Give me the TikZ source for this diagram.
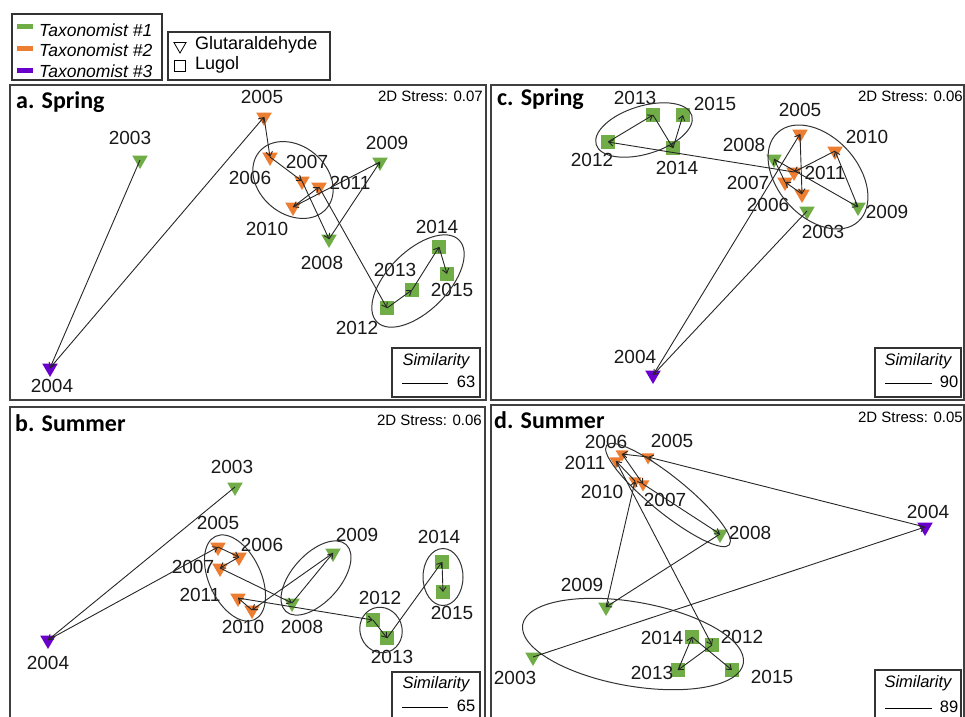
\documentclass[tikz,border=0pt]{standalone}
\usepackage{fontspec}
\setmainfont{Liberation Sans}
\newfontfamily\ttlfont{Carlito}
\usetikzlibrary{shapes.geometric,arrows.meta}
\definecolor{tgreen}{HTML}{70AD47}
\definecolor{torange}{HTML}{ED7D31}
\definecolor{tpurple}{HTML}{6A00CC}
\tikzset{
  tri/.style={regular polygon, regular polygon sides=3, shape border rotate=180, inner sep=0pt, minimum size=18pt},
  smtri/.style={tri, minimum size=15pt},
  sq/.style={rectangle, inner sep=0pt, minimum size=13.5pt},
  g/.style={fill=tgreen}, o/.style={fill=torange}, p/.style={fill=tpurple},
  yr/.style={font=\fontsize{19}{20}\selectfont, inner sep=0pt, text=black!90},
  traj/.style={draw=black!85, line width=0.9pt, -{Straight Barb[length=4.5pt,width=6.5pt]}},
  grp/.style={draw=black!80, line width=1pt},
  frame/.style={draw=black!75, line width=1.4pt},
  ttl/.style={font=\ttlfont\bfseries\fontsize{24}{26}\selectfont, inner sep=0pt, anchor=west},
  stress/.style={font=\fontsize{15}{16}\selectfont, inner sep=0pt, anchor=east},
  simtxt/.style={font=\itshape\fontsize{16.5}{18}\selectfont, inner sep=0pt},
  simnum/.style={font=\fontsize{16.5}{18}\selectfont, inner sep=0pt},
  leg/.style={font=\itshape\fontsize{17.5}{19}\selectfont, inner sep=0pt, anchor=west},
  leg2/.style={font=\fontsize{18}{19}\selectfont, inner sep=0pt, anchor=west},
  simbox/.style={draw=black!80, line width=1.1pt},
}
\begin{document}
\begin{tikzpicture}[x=1pt,y=-1pt]
\useasboundingbox (0,0) rectangle (965,716);
% ---------- legend ----------
\draw[simbox] (12,14) rectangle (162,80);
\fill[tgreen]  (17,23.5) rectangle (33,28.5);
\fill[torange] (17,45.5) rectangle (33,50.5);
\fill[tpurple] (17,67.5) rectangle (33,72.5);
\node[leg] (lt1) at (39,30) {Taxonomist \#1};
\node[leg] (lt2) at (39,50.5) {Taxonomist \#2};
\node[leg] (lt3) at (39,71) {Taxonomist \#3};
\draw[simbox] (168,32) rectangle (330,80);
\node[tri, draw=black, line width=0.8pt, minimum size=14pt] (lgt) at (180,46) {};
\node[sq, draw=black, line width=0.8pt, minimum size=11pt] (lgs) at (180,66) {};
\node[leg2] (lg1) at (195,45) {Glutaraldehyde};
\node[leg2] (lg2) at (195,65) {Lugol};
% ---------- frames ----------
\draw[frame] (10,85) rectangle (486,400);
\draw[frame] (491,85) rectangle (964,400);
\draw[frame] (10,718) -- (10,407) -- (485,407) -- (485,718);
\draw[frame] (491,718) -- (491,405) -- (964,405) -- (964,718);
% titles
\node[ttl] (ta) at (16,102) {a. Spring};
\node[ttl] (tc) at (497,99) {c. Spring};
\node[ttl] (tb) at (15,423) {b. Summer};
\node[ttl] (td) at (494,420) {d. Summer};
\node[stress] (sa) at (483,96) {2D Stress: 0.07};
\node[stress] (sc) at (963,96) {2D Stress: 0.06};
\node[stress] (sb) at (482,420) {2D Stress: 0.06};
\node[stress] (sd) at (963,417) {2D Stress: 0.05};
% similarity boxes
\draw[simbox] (392,348) rectangle (480,397);
\node[simtxt] (sima) at (436,361) {Similarity};
\coordinate (sla1) at (402,383); \coordinate (sla2) at (448,383);
\draw[line width=0.9pt] (sla1) -- (sla2);
\node[simnum] (na) at (466,382) {63};
\draw[simbox] (875,348) rectangle (961,397);
\node[simtxt] (simc) at (918,361) {Similarity};
\coordinate (slc1) at (885,383); \coordinate (slc2) at (932,383);
\draw[line width=0.9pt] (slc1) -- (slc2);
\node[simnum] (nc) at (949,382) {90};
\draw[simbox] (392,718) -- (392,672) -- (480,672) -- (480,718);
\node[simtxt] (simb) at (436,684) {Similarity};
\coordinate (slb1) at (402,707); \coordinate (slb2) at (448,707);
\draw[line width=0.9pt] (slb1) -- (slb2);
\node[simnum] (nb) at (466,706) {65};
\draw[simbox] (875,718) -- (875,670) -- (961,670) -- (961,718);
\node[simtxt] (simd) at (918,683) {Similarity};
\coordinate (sld1) at (885,708); \coordinate (sld2) at (932,708);
\draw[line width=0.9pt] (sld1) -- (sld2);
\node[simnum] (nd) at (949,707) {89};
% ---------- panel a ----------
\node[tri,g] (a03) at (140,160) {};
\node[tri,p] (a04) at (50,368) {};
\node[tri,o] (a05) at (264,117) {};
\node[tri,o] (a06) at (270,157) {};
\node[tri,o] (a07) at (302,181) {};
\node[tri,g] (a08) at (329,239) {};
\node[tri,g] (a09) at (380,162) {};
\node[tri,o] (a10) at (293,207) {};
\node[tri,o] (a11) at (319,187) {};
\node[sq,g] (a12) at (387,308) {};
\node[sq,g] (a13) at (412,290) {};
\node[sq,g] (a14) at (439,247) {};
\node[sq,g] (a15) at (447,274) {};
\node[yr] (la03) at (130,138) {2003};
\node[yr] (la04) at (52,386) {2004};
\node[yr] (la05) at (262,97) {2005};
\node[yr] (la06) at (250,178) {2006};
\node[yr] (la07) at (307,162) {2007};
\node[yr] (la08) at (322,263) {2008};
\node[yr] (la09) at (387,143) {2009};
\node[yr] (la10) at (267,229) {2010};
\node[yr] (la11) at (350,183) {2011};
\node[yr] (la12) at (357,328) {2012};
\node[yr] (la13) at (395,270) {2013};
\node[yr] (la14) at (437,227) {2014};
\node[yr] (la15) at (452,290) {2015};
\draw[grp, rotate around={-40:(293,180)}] (293,180) ellipse [x radius=44pt, y radius=34pt];
\draw[grp, rotate around={45:(418,281)}] (418,281) ellipse [x radius=58pt, y radius=30pt];
% ---------- panel b ----------
\node[tri,g] (b03) at (235,487) {};
\node[tri,p] (b04) at (48,640) {};
\node[tri,o] (b05) at (218,547) {};
\node[tri,o] (b06) at (239,557) {};
\node[tri,o] (b07) at (220,568) {};
\node[tri,g] (b08) at (292,603) {};
\node[tri,g] (b09) at (333,553) {};
\node[tri,o] (b10) at (252,610) {};
\node[tri,o] (b11) at (238,598) {};
\node[sq,g] (b12) at (373,620) {};
\node[sq,g] (b13) at (387,638) {};
\node[sq,g] (b14) at (442,562) {};
\node[sq,g] (b15) at (443,592) {};
\node[yr] (lb03) at (232,467) {2003};
\node[yr] (lb04) at (48,663) {2004};
\node[yr] (lb05) at (218,523) {2005};
\node[yr] (lb06) at (262,545) {2006};
\node[yr] (lb07) at (193,567) {2007};
\node[yr] (lb08) at (302,627) {2008};
\node[yr] (lb09) at (357,535) {2009};
\node[yr] (lb10) at (243,627) {2010};
\node[yr] (lb11) at (200,595) {2011};
\node[yr] (lb12) at (380,598) {2012};
\node[yr] (lb13) at (392,657) {2013};
\node[yr] (lb14) at (439,537) {2014};
\node[yr] (lb15) at (452,613) {2015};
\draw[grp, rotate around={-65:(235,578)}] (235,578) ellipse [x radius=46pt, y radius=26pt];
\draw[grp, rotate around={48:(316,578)}] (316,578) ellipse [x radius=45pt, y radius=24pt];
\draw[grp, rotate around={20:(381,630)}] (381,630) ellipse [x radius=21pt, y radius=23pt];
\draw[grp] (443,577) ellipse [x radius=20pt, y radius=28.5pt];
% ---------- panel c ----------
\node[tri,g] (c03) at (807,211) {};
\node[tri,p] (c04) at (653,375) {};
\node[tri,o] (c05) at (800,134) {};
\node[tri,o] (c06) at (802,194) {};
\node[tri,o] (c07) at (785,182) {};
\node[tri,g] (c08) at (774,159) {};
\node[tri,g] (c09) at (858,207) {};
\node[tri,o] (c10) at (835,151) {};
\node[tri,o] (c11) at (794,172) {};
\node[sq,g] (c12) at (608,142) {};
\node[sq,g] (c13) at (653,115) {};
\node[sq,g] (c14) at (673,148) {};
\node[sq,g] (c15) at (683,115) {};
\node[yr] (lc03) at (823,232) {2003};
\node[yr] (lc04) at (635,357) {2004};
\node[yr] (lc05) at (800,110) {2005};
\node[yr] (lc06) at (768,205) {2006};
\node[yr] (lc07) at (748,183) {2007};
\node[yr] (lc08) at (744,145) {2008};
\node[yr] (lc09) at (887,212) {2009};
\node[yr] (lc10) at (867,137) {2010};
\node[yr] (lc11) at (825,173) {2011};
\node[yr] (lc12) at (592,160) {2012};
\node[yr] (lc13) at (635,98) {2013};
\node[yr] (lc14) at (677,168) {2014};
\node[yr] (lc15) at (715,104) {2015};
\draw[grp, rotate around={-48:(818,177)}] (818,177) ellipse [x radius=60pt, y radius=40pt];
\draw[grp, rotate around={17:(644,130)}] (644,130) ellipse [x radius=50pt, y radius=24pt];
% ---------- panel d ----------
\node[tri,g] (d03) at (533,657) {};
\node[tri,p] (d04) at (925,527) {};
\node[smtri,o] (d05) at (648,457) {};
\node[smtri,o] (d06) at (622,454) {};
\node[smtri,o] (d07) at (643,484) {};
\node[tri,g] (d08) at (720,534) {};
\node[tri,g] (d09) at (606,607) {};
\node[smtri,o] (d10) at (635,481) {};
\node[smtri,o] (d11) at (616,461) {};
\node[sq,g] (d12) at (712,645) {};
\node[sq,g] (d13) at (678,670) {};
\node[sq,g] (d14) at (692,637) {};
\node[sq,g] (d15) at (732,670) {};
\node[yr] (ld03) at (515,678) {2003};
\node[yr] (ld04) at (928,512) {2004};
\node[yr] (ld05) at (672,441) {2005};
\node[yr] (ld06) at (606,442) {2006};
\node[yr] (ld07) at (665,500) {2007};
\node[yr] (ld08) at (750,533) {2008};
\node[yr] (ld09) at (582,585) {2009};
\node[yr] (ld10) at (602,492) {2010};
\node[yr] (ld11) at (585,463) {2011};
\node[yr] (ld12) at (742,637) {2012};
\node[yr] (ld13) at (652,673) {2013};
\node[yr] (ld14) at (662,638) {2014};
\node[yr] (ld15) at (772,677) {2015};
\draw[grp, rotate around={-39:(668,495)}] (668,495) ellipse [x radius=79pt, y radius=18pt];
\draw[grp, rotate around={-10:(633,644)}] (633,644) ellipse [x radius=112pt, y radius=42pt];
% ---------- trajectories ----------
\foreach \p in {a,b,c,d}{
  \foreach \i/\j in {03/04,04/05,05/06,06/07,07/08,08/09,09/10,10/11,11/12,12/13,13/14,14/15}{
    \draw[traj] (\p\i.center) -- (\p\j.center);
  }
}
\end{tikzpicture}
\end{document}
